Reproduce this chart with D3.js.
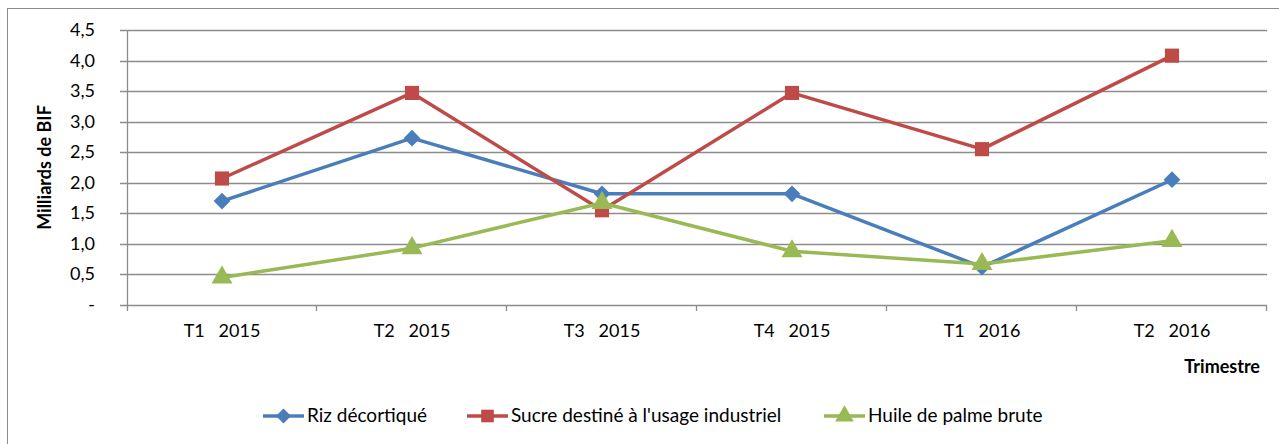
<!DOCTYPE html>
<html>
<head>
<meta charset="utf-8">
<script src="https://cdn.jsdelivr.net/npm/d3@7"></script>
<style>
	body { margin: 0; background: #fff; }
	svg { display: block; font-family: Lato, "Open Sans", sans-serif; }
</style>
</head>
<body>
<svg id="chart" width="1279" height="444"></svg>
<script>
// Données
const trimestres = ["T1   2015", "T2   2015", "T3   2015", "T4   2015", "T1   2016", "T2   2016"];
const riz = [1.70, 2.73, 1.82, 1.82, 0.62, 2.05];
const sucre = [2.07, 3.47, 1.55, 3.47, 2.55, 4.08];
const huile = [0.45, 0.93, 1.67, 0.88, 0.67, 1.05];
const yTicks = [0, 0.5, 1, 1.5, 2, 2.5, 3, 3.5, 4, 4.5];

// losange = carré tourné de 45°
const diamond = {
	draw(context, size) {
		const r = Math.sqrt(size / 2);
		context.moveTo(0, -r);
		context.lineTo(r, 0);
		context.lineTo(0, r);
		context.lineTo(-r, 0);
		context.closePath();
	}
};

const series = [
	{ name: "Riz décortiqué", values: riz, color: "#4a7ebb", symbol: diamond, size: 140 },
	{ name: "Sucre destiné à l'usage industriel", values: sucre, color: "#be4b48", symbol: d3.symbolSquare, size: 200 },
	{ name: "Huile de palme brute", values: huile, color: "#98b954", symbol: d3.symbolTriangle, size: 190 }
];

const svg = d3.select("#chart");
const margin = { left: 127, right: 1267, top: 30, bottom: 305 };

// cadre extérieur
svg.append("rect")
	.attr("x", 7.5).attr("y", 8.5)
	.attr("width", 1290).attr("height", 460)
	.attr("fill", "none")
	.attr("stroke", "#8c8c8c")
	.attr("stroke-width", 1);

const x = d3.scaleBand()
	.domain(trimestres)
	.range([margin.left, margin.right]);

const y = d3.scaleLinear()
	.domain([0, 4.5])
	.range([margin.bottom, margin.top]);

const fmt = v => v === 0 ? "-" : d3.format(".1f")(v).replace(".", ",");

// grille horizontale
svg.append("g")
	.selectAll("line")
	.data(yTicks)
	.enter()
	.append("line")
		.attr("x1", margin.left - 7)
		.attr("x2", margin.right)
		.attr("y1", d => Math.round(y(d)) + 0.5)
		.attr("y2", d => Math.round(y(d)) + 0.5)
		.attr("stroke", "#8c8c8c")
		.attr("stroke-width", 1.3);

// axe vertical
svg.append("line")
	.attr("x1", margin.left + 0.5).attr("x2", margin.left + 0.5)
	.attr("y1", margin.top).attr("y2", margin.bottom + 6)
	.attr("stroke", "#8c8c8c")
	.attr("stroke-width", 1.3);

// graduations de l'axe x (entre les catégories)
const xBounds = trimestres.map(t => x(t)).concat([margin.right]);
svg.append("g")
	.selectAll("line")
	.data(xBounds.slice(1))
	.enter()
	.append("line")
		.attr("x1", d => d - 0.5).attr("x2", d => d - 0.5)
		.attr("y1", margin.bottom).attr("y2", margin.bottom + 6)
		.attr("stroke", "#8c8c8c")
		.attr("stroke-width", 1.3);

// étiquettes y
svg.append("g")
	.selectAll("text")
	.data(yTicks)
	.enter()
	.append("text")
		.attr("x", 95)
		.attr("y", d => y(d) + 6)
		.attr("text-anchor", "end")
		.attr("font-size", 18)
		.attr("fill", "#000")
		.text(fmt);

// étiquettes x
svg.append("g")
	.selectAll("text")
	.data(trimestres)
	.enter()
	.append("text")
		.attr("x", d => x(d) + x.bandwidth() / 2)
		.attr("y", 337)
		.attr("text-anchor", "middle")
		.attr("font-size", 18)
		.style("white-space", "pre")
		.attr("xml:space", "preserve")
		.text(d => d);

// titres des axes
svg.append("text")
	.attr("transform", "translate(51," + ((margin.top + margin.bottom) / 2) + ") rotate(-90)")
	.attr("text-anchor", "middle")
	.attr("font-size", 18)
	.attr("font-weight", "bold")
	.text("Milliards de BIF");

svg.append("text")
	.attr("x", 1260).attr("y", 373)
	.attr("text-anchor", "end")
	.attr("font-size", 18)
	.attr("font-weight", "bold")
	.text("Trimestre");

// courbes
const line = d3.line()
	.x((d, i) => x(trimestres[i]) + x.bandwidth() / 2)
	.y(d => y(d));

const seriesG = svg.append("g");
series.forEach(s => {
	seriesG.append("path")
		.datum(s.values)
		.attr("d", line)
		.attr("fill", "none")
		.attr("stroke", s.color)
		.attr("stroke-width", 3.5)
		.attr("stroke-linejoin", "round");
});
series.forEach(s => {
	seriesG.selectAll(null)
		.data(s.values)
		.enter()
		.append("path")
			.attr("d", d3.symbol().type(s.symbol).size(s.size))
			.attr("transform", (d, i) => "translate(" + (x(trimestres[i]) + x.bandwidth() / 2) + "," + y(d) + ")")
			.attr("fill", s.color);
});

// légende
const legendX = [263, 467, 824];
const legend = svg.append("g");
series.forEach((s, i) => {
	const g = legend.append("g").attr("transform", "translate(" + legendX[i] + ",416)");
	g.append("line")
		.attr("x1", 0).attr("x2", 41)
		.attr("stroke", s.color)
		.attr("stroke-width", 3.5);
	g.append("path")
		.attr("d", d3.symbol().type(s.symbol).size(s.size * 0.8))
		.attr("transform", "translate(20.5,0)")
		.attr("fill", s.color);
	g.append("text")
		.attr("x", 44).attr("y", 6)
		.attr("font-size", 19)
		.text(s.name);
});
</script>
</body>
</html>
